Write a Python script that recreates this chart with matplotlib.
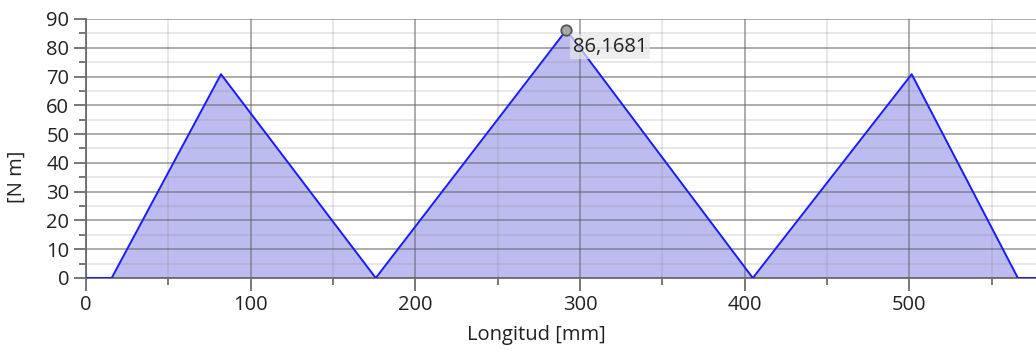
import matplotlib.pyplot as plt
from matplotlib.ticker import MultipleLocator

# bending moment diagram along the shaft
longitud = [0, 15.6, 82.0, 176.0, 291.8, 405.0, 501.5, 566.0, 580.0]
momento = [0, 0, 70.8, 0, 86.1681, 0, 70.8, 0, 0]
pico_x = 291.8
pico_y = 86.1681
pico_texto = "86,1681"

plt.rcParams["font.family"] = ["Open Sans", "DejaVu Sans"]

fig = plt.figure(figsize=(10.36, 3.51), dpi=100)
ax = fig.add_axes([0.083, 0.208, 0.917, 0.738])

ax.fill_between(longitud, momento, 0, color="#bcbcf0", linewidth=0, zorder=1)
ax.plot(longitud, momento, color="#1a1aff", linewidth=1.4, zorder=3)

ax.plot([pico_x], [pico_y], marker="o", markersize=7.5, markerfacecolor="#a8a8a8",
        markeredgecolor="#555555", markeredgewidth=1.3, zorder=4)
ax.annotate(pico_texto, (pico_x, pico_y), xytext=(4.5, -12), textcoords="offset points",
            fontsize=14.5, color="#222222", va="center", ha="left", zorder=5,
            bbox=dict(boxstyle="square,pad=0.12", facecolor="#e8e8e8", edgecolor="none", alpha=0.7))

ax.set_xlim(0, 577)
ax.set_ylim(0, 90)
ax.xaxis.set_major_locator(MultipleLocator(100))
ax.xaxis.set_minor_locator(MultipleLocator(50))
ax.yaxis.set_major_locator(MultipleLocator(10))
ax.yaxis.set_minor_locator(MultipleLocator(5))

ax.set_axisbelow(False)
ax.grid(which="major", color="#606060", alpha=0.55, linewidth=1.3, zorder=2)
ax.grid(which="minor", color="#808080", alpha=0.2, linewidth=1.3, zorder=2)

for side in ["top", "right"]:
    ax.spines[side].set_visible(False)
for side in ["left", "bottom"]:
    ax.spines[side].set_color("#777777")
    ax.spines[side].set_linewidth(1.4)

ax.tick_params(which="major", length=9, width=1.4, color="#777777", labelsize=14.5,
               labelcolor="#222222", pad=3)
ax.tick_params(which="minor", length=5, width=1.4, color="#777777")

ax.set_xlabel("Longitud [mm]", fontsize=14.5, color="#222222")
ax.set_ylabel("[N m]", fontsize=14.5, color="#222222")
ax.xaxis.set_label_coords(0.474, -0.18)
ax.yaxis.set_label_coords(-0.062, 0.39)

fig.savefig("out.png", dpi=100)
